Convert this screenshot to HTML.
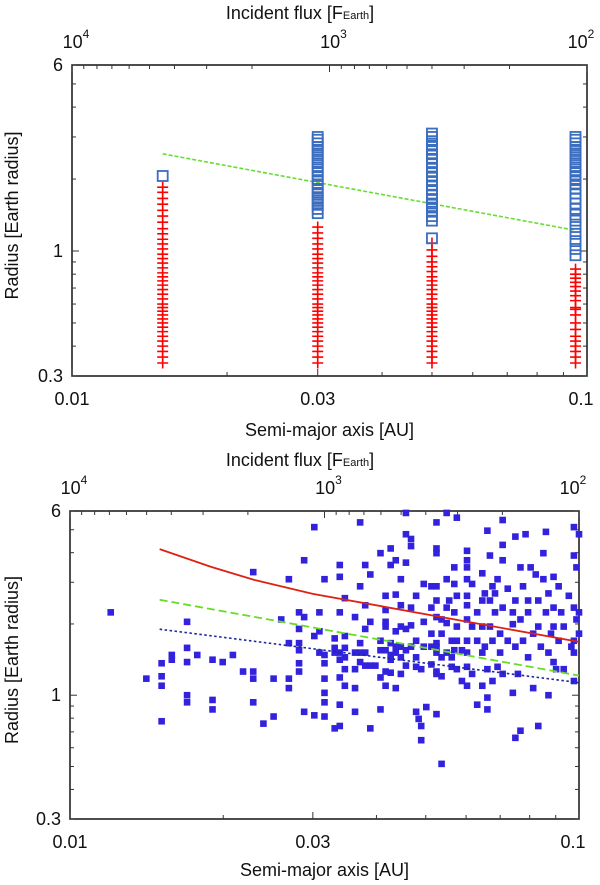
<!DOCTYPE html>
<html><head><meta charset="utf-8"><style>
html,body{margin:0;padding:0;background:#fff;}
svg{display:block;font-family:"Liberation Sans",Arial,sans-serif;}
</style></head><body>
<svg id="chart" width="600" height="885" viewBox="0 0 600 885">
<g id="top"></g>
<g id="bot"></g>
</svg>
<script>
// ---- top panel data ----
const colA = [0.015, 0.03, 0.05, 0.095];
const crossR1 = [0.34,0.36,0.38,0.40,0.42,0.44,0.46,0.48,0.50,0.52,0.54,0.56,0.58,0.60,0.63,0.66,0.69,0.72,0.75,0.78,0.81,0.85,0.89,0.93,0.97,1.02,1.07,1.12,1.18,1.24,1.32,1.40,1.48,1.57,1.66,1.76,1.85];
const crossR2 = [0.34,0.36,0.38,0.40,0.42,0.44,0.46,0.48,0.50,0.52,0.54,0.56,0.58,0.60,0.63,0.66,0.69,0.72,0.75,0.78,0.81,0.85,0.89,0.93,0.97,1.02,1.07,1.13,1.19,1.26];
const crossR3 = [0.34,0.36,0.38,0.40,0.42,0.44,0.46,0.48,0.50,0.52,0.54,0.56,0.58,0.60,0.63,0.66,0.69,0.72,0.75,0.78,0.82,0.86,0.90,0.95,1.01,1.08];
const crossR4 = [0.34,0.36,0.38,0.40,0.42,0.44,0.47,0.50,0.54,0.57,0.58,0.62,0.65,0.68,0.71,0.74,0.77,0.80,0.84];
const boxR1 = [2.06];
const boxR2 = [1.44,1.5,1.56,1.62,1.68,1.75,1.82,1.9,1.98,2.06,2.15,2.24,2.33,2.42,2.52,2.62,2.72,2.82,2.92,3.0];
const boxR3 = [1.13,1.34,1.4,1.46,1.52,1.58,1.65,1.72,1.8,1.88,1.96,2.05,2.14,2.23,2.33,2.43,2.54,2.65,2.76,2.88,3.0,3.1];
const boxR4 = [0.96,1.02,1.1,1.18,1.26,1.34,1.42,1.5,1.58,1.66,1.74,1.82,1.9,1.98,2.06,2.15,2.24,2.33,2.42,2.52,2.62,2.72,2.82,2.92,3.0];
const fitTopA = [0.015, 0.095];
const fitTopR = [2.55, 1.22];
// ---- bottom panel data ----
const logSemiMajor = [-1.92,-1.85,-1.82,-1.82,-1.82,-1.82,-1.80,-1.80,-1.77,-1.77,-1.77,-1.77,-1.77,-1.75,-1.72,-1.72,-1.72,-1.70,-1.68,-1.66,-1.64,-1.64,-1.64,-1.64,-1.62,-1.60,-1.60,-1.585,-1.57,-1.57,-1.57,-1.57,-1.55,-1.55,-1.55,-1.55,-1.55,-1.55,-1.54,-1.54,-1.54,-1.52,-1.52,-1.52,-1.51,-1.51,-1.51,-1.50,-1.50,-1.50,-1.50,-1.50,-1.50,-1.50,-1.48,-1.48,-1.48,-1.48,-1.47,-1.47,-1.47,-1.47,-1.47,-1.47,-1.47,-1.47,-1.46,-1.46,-1.46,-1.46,-1.46,-1.46,-1.44,-1.44,-1.44,-1.44,-1.44,-1.43,-1.43,-1.43,-1.43,-1.43,-1.42,-1.42,-1.42,-1.42,-1.42,-1.41,-1.41,-1.41,-1.41,-1.40,-1.39,-1.39,-1.39,-1.39,-1.39,-1.38,-1.38,-1.38,-1.38,-1.38,-1.38,-1.38,-1.37,-1.37,-1.37,-1.37,-1.37,-1.37,-1.36,-1.36,-1.36,-1.36,-1.36,-1.36,-1.35,-1.35,-1.35,-1.35,-1.35,-1.35,-1.34,-1.34,-1.34,-1.34,-1.34,-1.34,-1.33,-1.33,-1.33,-1.33,-1.33,-1.32,-1.32,-1.32,-1.32,-1.32,-1.315,-1.31,-1.31,-1.31,-1.305,-1.305,-1.305,-1.30,-1.29,-1.29,-1.29,-1.29,-1.29,-1.28,-1.28,-1.28,-1.28,-1.28,-1.28,-1.28,-1.28,-1.28,-1.28,-1.28,-1.28,-1.27,-1.27,-1.27,-1.27,-1.27,-1.26,-1.26,-1.26,-1.26,-1.26,-1.255,-1.25,-1.25,-1.25,-1.245,-1.245,-1.245,-1.245,-1.24,-1.24,-1.24,-1.24,-1.24,-1.23,-1.23,-1.22,-1.22,-1.22,-1.22,-1.22,-1.22,-1.22,-1.22,-1.22,-1.22,-1.22,-1.21,-1.21,-1.21,-1.20,-1.20,-1.20,-1.19,-1.19,-1.19,-1.19,-1.19,-1.185,-1.185,-1.18,-1.18,-1.18,-1.18,-1.175,-1.175,-1.175,-1.17,-1.17,-1.17,-1.165,-1.165,-1.16,-1.16,-1.155,-1.155,-1.15,-1.15,-1.15,-1.15,-1.15,-1.14,-1.14,-1.13,-1.13,-1.13,-1.125,-1.125,-1.125,-1.125,-1.12,-1.115,-1.115,-1.115,-1.11,-1.11,-1.105,-1.10,-1.10,-1.10,-1.095,-1.09,-1.09,-1.085,-1.08,-1.08,-1.08,-1.075,-1.07,-1.07,-1.065,-1.065,-1.06,-1.06,-1.06,-1.055,-1.05,-1.05,-1.05,-1.05,-1.045,-1.04,-1.04,-1.035,-1.03,-1.03,-1.02,-1.015,-1.01,-1.01,-1.01,-1.01,-1.01,-1.01,-1.005,-1.005,-1.00,-1.00,-1.00];
const logRadius = [0.35,0.07,0.135,0.08,0.04,-0.11,0.17,0.15,0.31,0.20,0.14,0.00,-0.03,0.17,0.15,-0.02,-0.06,0.14,0.17,0.10,0.52,0.10,0.07,-0.03,-0.12,0.07,-0.09,0.32,0.49,0.22,0.07,0.03,0.35,0.28,0.22,0.19,0.135,0.10,0.33,0.57,-0.07,0.71,0.25,-0.085,0.35,0.27,0.18,0.49,0.17,0.135,0.07,0.01,-0.03,-0.09,0.24,0.20,0.18,-0.14,0.55,0.50,0.35,0.18,0.15,0.075,-0.04,-0.13,0.41,0.25,0.20,0.16,0.11,0.04,0.33,0.18,0.11,0.03,-0.07,0.73,0.46,0.22,0.18,0.14,0.55,0.38,0.28,0.18,0.125,0.51,0.31,0.125,-0.14,0.125,0.60,0.23,0.19,0.075,-0.06,0.29,0.19,0.10,0.36,0.31,0.42,0.04,0.62,0.55,0.22,0.17,0.15,0.095,0.425,0.57,0.27,0.205,0.18,0.03,0.49,0.38,0.29,0.205,0.16,0.09,0.68,0.56,0.28,0.19,0.125,0.77,0.66,0.63,0.295,0.205,0.37,0.16,0.42,0.23,0.12,-0.07,-0.10,-0.13,0.11,-0.19,0.47,0.31,0.205,-0.05,0.46,0.37,0.26,0.205,0.13,0.73,0.62,0.33,0.22,0.18,0.10,-0.08,0.60,0.46,0.40,0.205,0.09,0.32,0.26,0.16,-0.29,0.08,0.77,0.49,0.37,0.305,0.18,0.40,0.23,0.16,0.12,0.54,0.47,0.35,0.19,0.75,0.42,0.29,0.23,0.11,0.19,0.06,0.61,0.54,0.38,0.32,0.23,0.04,0.57,0.49,0.42,0.18,0.12,0.47,0.29,0.09,-0.04,0.23,0.35,0.515,0.40,0.29,0.18,0.04,0.43,0.205,0.695,-0.01,-0.06,0.11,0.40,0.29,0.59,0.46,0.23,0.06,0.43,0.35,0.12,0.49,0.26,0.18,0.635,0.74,0.57,0.37,0.09,0.45,0.23,0.01,0.35,0.30,0.67,0.40,0.205,-0.18,0.09,0.54,0.32,-0.15,0.46,0.23,0.68,0.40,0.16,0.35,0.54,0.26,0.03,0.51,0.40,0.29,-0.13,0.205,0.49,0.60,0.69,0.35,0.18,0.00,0.43,0.26,0.50,0.37,0.29,0.14,0.11,0.46,0.23,0.35,0.11,0.29,0.42,0.205,0.71,0.59,0.37,0.23,0.18,0.06,0.54,0.32,0.68,0.35,0.26];
const redCurveA = [0.015, 0.0189, 0.023, 0.030, 0.1];
const redCurveR = [4.14, 3.49, 3.07, 2.68, 1.68];
const greenLineA = [0.015, 0.1];
const greenLineR = [2.53, 1.21];
const blueLineA = [0.015, 0.1];
const blueLineR = [1.9, 1.13];
const xTickLabels = ["0.01","0.03","0.1"];
const xTickVals = [0.01,0.03,0.1];
const yTickLabels = ["0.3","1","6"];
const yTickVals = [0.3,1,6];
const fluxExps = ["4","3","2"];
const fluxVals = [1e4,1e3,1e2];

const NS="http://www.w3.org/2000/svg";
function mk(parent,tag,attrs){const e=document.createElementNS(NS,tag);for(const k in attrs)e.setAttribute(k,attrs[k]);parent.appendChild(e);return e;}
const L=Math.log10;

function panel(g,box,lab){
  const {x0,x1,y0,y1}=box;
  const X=a=>x0+(L(a)+2)*(x1-x0);
  const Y=r=>y1-(L(r)-L(0.3))/L(20)*(y1-y0);
  const XF=f=>X(1/Math.sqrt(f));
  const frame=mk(g,'rect',{x:x0,y:y0,width:x1-x0,height:y1-y0,fill:'none',stroke:'#222','stroke-width':1.6});
  
  
  for(let d=1;d<=10;d++){const a=d*0.01;const len=(d===1||d===3||d===10)?7:4;
    let t=mk(g,'line',{x1:X(a),x2:X(a),y1:y1,y2:y1-len,stroke:'#333','stroke-width':1});
    }
  [[100,1000,100],[1000,10000,1000]].forEach(([s,e,st])=>{for(let f=s;f<=e;f+=st){const len=(f===100||f===1000||f===10000)?7:4;
    let t=mk(g,'line',{x1:XF(f),x2:XF(f),y1:y0,y2:y0+len,stroke:'#333','stroke-width':1});
    }});
  [0.3,0.4,0.5,0.6,0.7,0.8,0.9,1,2,3,4,5,6].forEach(r=>{const len=(r===1)?7:4;
    let t=mk(g,'line',{x1:x0,x2:x0+len,y1:Y(r),y2:Y(r),stroke:'#333','stroke-width':1});
    
    let t2=mk(g,'line',{x1:x1,x2:x1-len,y1:Y(r),y2:Y(r),stroke:'#333','stroke-width':1});
    });
  xTickVals.forEach((v,i)=>{let t=mk(g,'text',{x:X(v)+(i===2?-6:0),y:y1+29,'font-size':18,'text-anchor':'middle',fill:'#111'});t.textContent=xTickLabels[i];
    });
  yTickVals.forEach((v,i)=>{let t=mk(g,'text',{x:x0-9,y:Y(v)+6,'font-size':18,'text-anchor':'end',fill:'#111'});t.textContent=yTickLabels[i];
    });
  fluxVals.forEach((v,i)=>{let t=mk(g,'text',{x:XF(v)+(i===2?-6:4),y:y0-17,'font-size':18,'text-anchor':'middle',fill:'#111'});
    t.innerHTML='10<tspan font-size="12" dy="-10">'+fluxExps[i]+'</tspan>';
    });
  let xt=mk(g,'text',{x:(x0+x1)/2,y:lab.xl,'font-size':18,'text-anchor':'middle',fill:'#111'});xt.textContent='Semi-major axis [AU]';
  
  let tt=mk(g,'text',{x:300,y:lab.tl,'font-size':18,'text-anchor':'middle',fill:'#111'});
  tt.innerHTML='Incident flux [F<tspan font-size="11">Earth</tspan>]';
  
  const cy=(y0+y1)/2;
  let yt=mk(g,'text',{x:0,y:0,'font-size':18,'text-anchor':'middle',fill:'#111',transform:`translate(18,${cy-5}) rotate(-90)`});yt.textContent='Radius [Earth radius]';
  
  return {X,Y};
}

const gt=document.getElementById('top');
const T=panel(gt,{x0:72,x1:587,y0:65,y1:376},{xl:436,tl:19});
const crossSets=[crossR1,crossR2,crossR3,crossR4];
const boxSets=[boxR1,boxR2,boxR3,boxR4];
let fl=mk(gt,'line',{x1:T.X(fitTopA[0]),y1:T.Y(fitTopR[0]),x2:T.X(fitTopA[1]),y2:T.Y(fitTopR[1]),stroke:'#66dd33','stroke-width':1.6,'stroke-dasharray':'4,2'});

crossSets.forEach((arr,c)=>{arr.forEach(r=>{const x=T.X(colA[c]),y=T.Y(r);
  let p=mk(gt,'path',{d:`M${x-5.5},${y}H${x+5.5}M${x},${y-5.5}V${y+5.5}`,stroke:'#ff0000','stroke-width':1.6,fill:'none'});
  });});
boxSets.forEach((arr,c)=>{arr.forEach(r=>{const x=T.X(colA[c]),y=T.Y(r);
  let p=mk(gt,'rect',{x:x-5,y:y-5,width:10,height:10,stroke:'#3a6cc0','stroke-width':1.8,fill:'none'});
  });});

const gb=document.getElementById('bot');
const B=panel(gb,{x0:70,x1:579,y0:511,y1:819},{xl:876,tl:466});
const XL=la=>70+(la+2)*509;
const YL=lr=>819-(lr-L(0.3))/L(20)*308;
logSemiMajor.forEach((la,i)=>{const x=XL(la),y=YL(logRadius[i]);
  let p=mk(gb,'rect',{x:x-3.3,y:y-3.3,width:6.6,height:6.6,fill:'#3322dd'});
  });
function poly(A,R,attrs,name){const d=A.map((a,i)=>(i?'L':'M')+B.X(a)+','+B.Y(R[i])).join('');
  let p=mk(gb,'path',Object.assign({d,fill:'none'},attrs));}
poly(redCurveA,redCurveR,{stroke:'#dd2211','stroke-width':1.8},'threshold-curve-red');
poly(greenLineA,greenLineR,{stroke:'#66dd22','stroke-width':1.8,'stroke-dasharray':'8,4'},'threshold-line-green');
poly(blueLineA,blueLineR,{stroke:'#1a2a99','stroke-width':1.6,'stroke-dasharray':'2.5,2.5'},'threshold-line-blue');
</script>
</body></html>
